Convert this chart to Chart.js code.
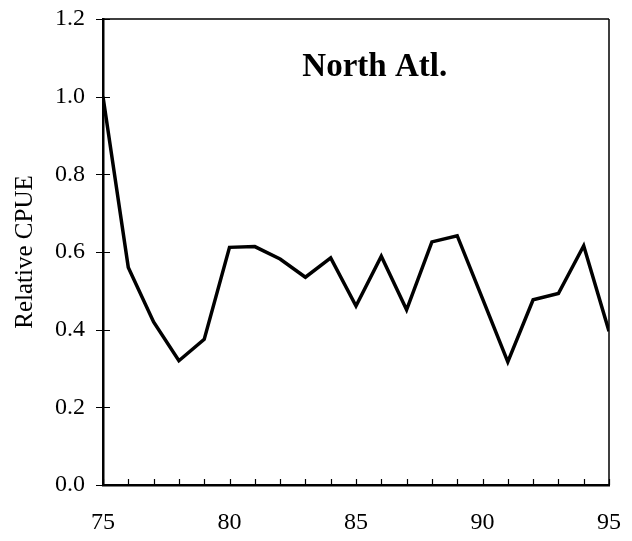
<!DOCTYPE html>
<html>
<head>
<meta charset="utf-8">
<script src="https://cdn.jsdelivr.net/npm/chart.js@4"></script>
<style>
  html, body { margin: 0; padding: 0; background: #fff; }
  #wrap { width: 632px; height: 541px; }
</style>
</head>
<body>
<div id="wrap"><canvas id="cpue"></canvas></div>
<script>
// Relative CPUE, North Atlantic, 1975-1995
const years = [75, 76, 77, 78, 79, 80, 81, 82, 83, 84, 85, 86, 87, 88, 89, 90, 91, 92, 93, 94, 95];
const cpue  = [1.0, 0.56, 0.42, 0.32, 0.375, 0.612, 0.614, 0.582, 0.535, 0.585, 0.461, 0.589, 0.451, 0.626, 0.642, 0.48, 0.317, 0.477, 0.493, 0.616, 0.396];
const yTicks = [0, 0.2, 0.4, 0.6, 0.8, 1.0, 1.2];
const xLabelYears = [75, 80, 85, 90, 95];
const panelTitle = 'North Atl.';

const serif = '"Liberation Serif", "Times New Roman", serif';

// frame + ticks the way the old plotting package drew them
const framePlugin = {
  id: 'frame',
  afterDatasetsDraw(chart) {
    const { ctx, chartArea: a, scales } = chart;
    ctx.save();
    ctx.strokeStyle = '#000';
    ctx.lineWidth = 1.5;
    ctx.beginPath();
    ctx.moveTo(a.left, a.top); ctx.lineTo(a.right, a.top);
    ctx.moveTo(a.right, a.top); ctx.lineTo(a.right, a.bottom);
    ctx.stroke();

    ctx.lineWidth = 1.2;
    ctx.beginPath();
    scales.y.ticks.forEach(t => {
      const y = Math.round(scales.y.getPixelForValue(t.value)) + 0.5;
      ctx.moveTo(a.left - 7, y); ctx.lineTo(a.left + 7, y);
    });
    scales.x.ticks.forEach(t => {
      const x = Math.round(scales.x.getPixelForValue(t.value)) + 0.5;
      ctx.moveTo(x, a.bottom); ctx.lineTo(x, a.bottom - 6);
    });
    ctx.stroke();

    ctx.fillStyle = '#000';
    ctx.font = 'bold 33px ' + serif;
    ctx.textAlign = 'center';
    ctx.textBaseline = 'alphabetic';
    ctx.fillText(panelTitle, a.left + (a.right - a.left) * 0.537, a.top + 57);
    ctx.restore();
  },
};

new Chart(document.getElementById('cpue'), {
  type: 'line',
  data: {
    labels: years,
    datasets: [{
      data: years.map((yr, i) => ({ x: yr, y: cpue[i] })),
      borderColor: '#000',
      borderWidth: 3.5,
      pointRadius: 0,
      tension: 0,
      fill: false,
    }],
  },
  options: {
    responsive: true,
    maintainAspectRatio: false,
    animation: false,
    layout: { padding: { top: 19, right: 23, left: 0, bottom: 0 } },
    plugins: { legend: { display: false }, tooltip: { enabled: false } },
    scales: {
      x: {
        type: 'linear',
        min: 75, max: 95,
        grid: { display: false, drawTicks: false },
        border: { color: '#000', width: 2.5 },
        afterFit: s => { s.height = 56; s.paddingLeft = 0; s.paddingRight = 0; },
        ticks: {
          stepSize: 1,
          autoSkip: false,
          maxRotation: 0,
          padding: 23,
          color: '#000',
          font: { family: serif, size: 24 },
          callback: v => xLabelYears.includes(v) ? String(v) : '',
        },
      },
      y: {
        min: 0, max: 1.2,
        afterBuildTicks: s => { s.ticks = yTicks.map(v => ({ value: v })); },
        grid: { display: false, drawTicks: false },
        border: { color: '#000', width: 2.5 },
        afterFit: s => { s.width = 103; s.paddingTop = 0; s.paddingBottom = 0; },
        title: {
          display: true,
          text: 'Relative CPUE',
          color: '#000',
          font: { family: serif, size: 25 },
          padding: { top: 10, bottom: 0 },
        },
        ticks: {
          padding: 18,
          color: '#000',
          font: { family: serif, size: 24 },
          callback: v => v.toFixed(1),
        },
      },
    },
  },
  plugins: [framePlugin],
});
</script>
</body>
</html>
